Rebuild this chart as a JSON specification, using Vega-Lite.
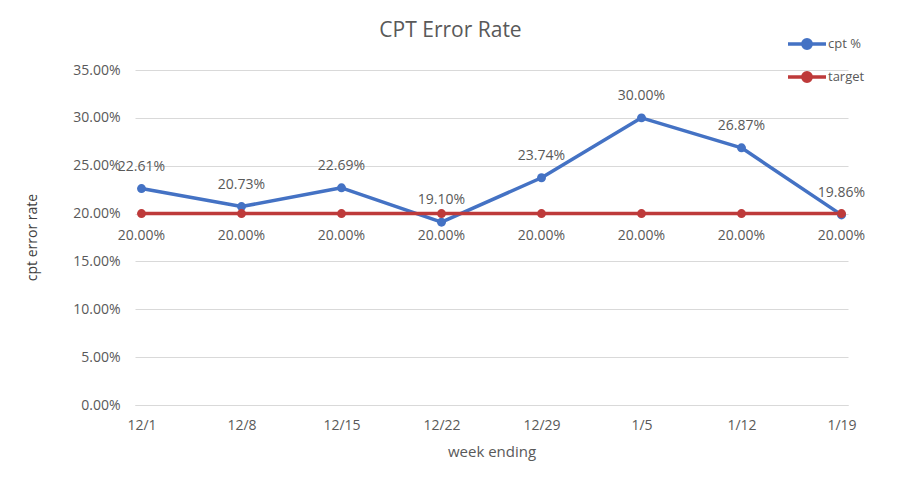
{
  "$schema": "https://vega.github.io/schema/vega-lite/v6.json",
  "width": 713,
  "height": 335,
  "autosize": {"type": "none"},
  "padding": {"left": 135, "top": 70, "right": 52, "bottom": 83},
  "background": "white",
  "config": {
    "font": "Open Sans",
    "view": {"stroke": null}
  },
  "title": {
    "text": "CPT Error Rate",
    "fontSize": 21,
    "fontWeight": "normal",
    "color": "#595959",
    "font": "Open Sans",
    "anchor": "middle",
    "dx": -41,
    "dy": 18,
    "offset": 0
  },
  "data": {
    "values": [
      {"week": "12/1", "series": "cpt %", "rate": 0.2261},
      {"week": "12/8", "series": "cpt %", "rate": 0.2073},
      {"week": "12/15", "series": "cpt %", "rate": 0.2269},
      {"week": "12/22", "series": "cpt %", "rate": 0.1910},
      {"week": "12/29", "series": "cpt %", "rate": 0.2374},
      {"week": "1/5", "series": "cpt %", "rate": 0.3000},
      {"week": "1/12", "series": "cpt %", "rate": 0.2687},
      {"week": "1/19", "series": "cpt %", "rate": 0.1986},
      {"week": "12/1", "series": "target", "rate": 0.20},
      {"week": "12/8", "series": "target", "rate": 0.20},
      {"week": "12/15", "series": "target", "rate": 0.20},
      {"week": "12/22", "series": "target", "rate": 0.20},
      {"week": "12/29", "series": "target", "rate": 0.20},
      {"week": "1/5", "series": "target", "rate": 0.20},
      {"week": "1/12", "series": "target", "rate": 0.20},
      {"week": "1/19", "series": "target", "rate": 0.20}
    ]
  },
  "encoding": {
    "x": {
      "field": "week",
      "type": "nominal",
      "sort": null,
      "scale": {"type": "point", "padding": 0.065},
      "axis": {
        "title": "week ending",
        "titleFontSize": 15,
        "titleFontWeight": "normal",
        "titleColor": "#595959",
        "titleFont": "Open Sans",
        "titleBaseline": "middle",
        "titleY": 46,
        "labelAngle": 0,
        "labelFontSize": 14,
        "labelColor": "#595959",
        "labelPadding": 13,
        "ticks": false,
        "domainColor": "#d9d9d9",
        "domainWidth": 1,
        "grid": false
      }
    },
    "y": {
      "field": "rate",
      "type": "quantitative",
      "scale": {"domain": [0, 0.35], "nice": false, "zero": true},
      "axis": {
        "title": "cpt error rate",
        "titleFontSize": 14,
        "titleFontWeight": "normal",
        "titleColor": "#404040",
        "titleFont": "Open Sans",
        "titleX": -103,
        "titleY": 167,
        "titleBaseline": "middle",
        "titleAngle": 270,
        "values": [0, 0.05, 0.1, 0.15, 0.2, 0.25, 0.3, 0.35],
        "format": ".2%",
        "labelFontSize": 14,
        "labelColor": "#595959",
        "labelPadding": 15,
        "ticks": false,
        "domain": false,
        "grid": true,
        "gridColor": "#d9d9d9",
        "gridWidth": 1
      }
    },
    "color": {
      "field": "series",
      "type": "nominal",
      "scale": {"domain": ["cpt %", "target"], "range": ["#4472C4", "#BE3A3A"]},
      "legend": {
        "title": null,
        "orient": "none",
        "legendX": 651,
        "legendY": -47,
        "symbolType": "M -1 0 L 1 0 M 0.22 0 A 0.22 0.22 0 1 1 -0.22 0 A 0.22 0.22 0 1 1 0.22 0",
        "symbolSize": 1444,
        "symbolStrokeWidth": 3.5,
        "labelFontSize": 13,
        "labelColor": "#595959",
        "labelOffset": 0,
        "rowPadding": -3,
        "encode": {
          "symbols": {
            "update": {
              "fill": {"scale": "color", "field": "value"},
              "stroke": {"scale": "color", "field": "value"},
              "opacity": {"value": 1}
            }
          }
        }
      }
    }
  },
  "layer": [
    {
      "mark": {"type": "line", "strokeWidth": 3.5, "strokeCap": "round", "strokeJoin": "round"},
      "encoding": {"detail": {"field": "series"}}
    },
    {
      "mark": {"type": "point", "filled": true, "size": 80, "opacity": 1}
    },
    {
      "transform": [{"filter": "datum.series === 'cpt %'"}],
      "mark": {"type": "text", "dy": -22, "fontSize": 14, "color": "#595959"},
      "encoding": {
        "text": {"field": "rate", "type": "quantitative", "format": ".2%"},
        "color": {"value": "#595959"}
      }
    },
    {
      "transform": [{"filter": "datum.series === 'target'"}],
      "mark": {"type": "text", "dy": 22, "fontSize": 14, "color": "#595959"},
      "encoding": {
        "text": {"field": "rate", "type": "quantitative", "format": ".2%"},
        "color": {"value": "#595959"}
      }
    }
  ]
}
